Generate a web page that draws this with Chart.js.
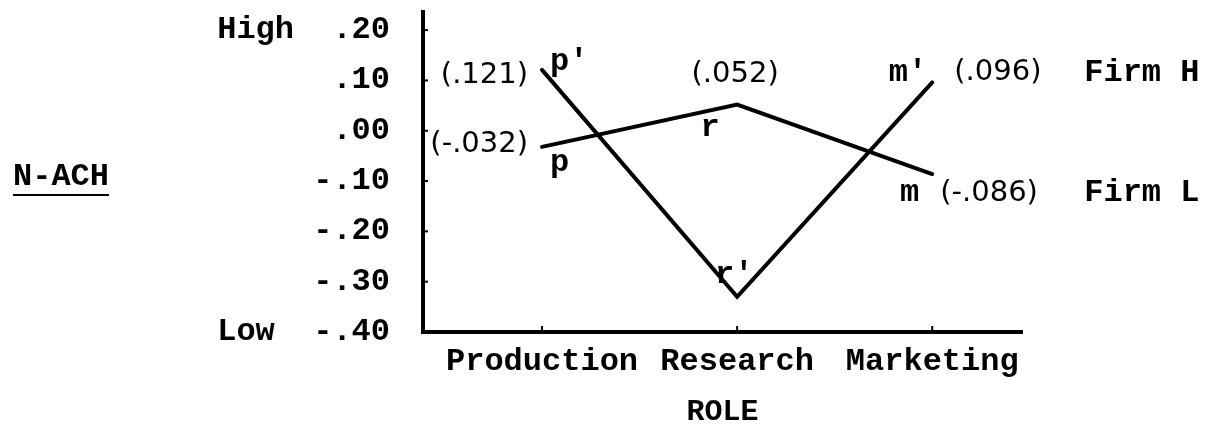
<!DOCTYPE html>
<html>
<head>
<meta charset="utf-8">
<script src="https://cdn.jsdelivr.net/npm/chart.js@4"></script>
<style>
  html, body { margin: 0; padding: 0; background: #fff; }
  #wrap { width: 1208px; height: 427px; }
</style>
</head>
<body>
<div id="wrap"><canvas id="roleChart"></canvas></div>
<script>
// Categories (roles) on the x axis
const roles = ['Production', 'Research', 'Marketing'];

// N-ACH scores by role
const firmH = [0.121, -0.33, 0.096];
const firmL = [-0.032, 0.052, -0.086];

// Y axis ticks and their printed labels
const yTickValues = [-0.4, -0.3, -0.2, -0.1, 0, 0.1, 0.2];
const yTickLabels = ['Low  -.40', '-.30', '-.20', '-.10', '.00', '.10', 'High  .20'];

// Text printed next to each point
const firmHValueLabels = ['(.121)', '', '(.096)'];
const firmHPointNames = ["p'", "r'", "m'"];
const firmLValueLabels = ['(-.032)', '(.052)', '(-.086)'];
const firmLPointNames = ['p', 'r', 'm'];
const seriesNames = ['Firm H', 'Firm L'];

const mono = '"Liberation Mono", "Courier New", monospace';
const plain = '"DejaVu Sans", sans-serif';

// Labels, small inner ticks and the underlined axis name
const annotations = {
  id: 'annotations',
  afterDraw(chart) {
    const ctx = chart.ctx;
    const xs = chart.scales.x;
    const ys = chart.scales.y;
    const px = (i) => xs.getPixelForValue(i);
    const pyH = (i) => ys.getPixelForValue(firmH[i]);
    const pyL = (i) => ys.getPixelForValue(firmL[i]);

    ctx.save();
    ctx.fillStyle = '#000';
    ctx.strokeStyle = '#000';
    ctx.textBaseline = 'middle';

    const put = (text, x, y, align, font) => {
      ctx.font = font;
      ctx.textAlign = align;
      ctx.fillText(text, x, y);
    };
    const monoFont = 'bold 32px ' + mono;
    const valFont = '29px ' + plain;

    // Firm H
    put(firmHValueLabels[0], px(0) - 14, pyH(0) + 6, 'right', valFont);
    put(firmHPointNames[0], px(0) + 8, pyH(0) - 8, 'left', monoFont);
    put(firmHPointNames[1], px(1) - 3, pyH(1) - 22, 'center', monoFont);
    put(firmHPointNames[2], px(2) - 5, pyH(2) - 10, 'right', monoFont);
    put(firmHValueLabels[2], px(2) + 22, pyH(2) - 10, 'left', valFont);
    put(seriesNames[0], px(2) + 152, pyH(2) - 10, 'left', monoFont);

    // Firm L
    put(firmLValueLabels[0], px(0) - 14, pyL(0) - 2, 'right', valFont);
    put(firmLPointNames[0], px(0) + 8, pyL(0) + 16, 'left', monoFont);
    put(firmLValueLabels[1], px(1) - 2, pyL(1) - 30, 'center', valFont);
    put(firmLPointNames[1], px(1) - 27, pyL(1) + 23, 'center', monoFont);
    put(firmLPointNames[2], px(2) - 13, pyL(2) + 19, 'right', monoFont);
    put(firmLValueLabels[2], px(2) + 8, pyL(2) + 19, 'left', valFont);
    put(seriesNames[1], px(2) + 152, pyL(2) + 19, 'left', monoFont);

    // Axis name, underlined
    ctx.font = 'bold 32px ' + mono;
    ctx.textAlign = 'left';
    ctx.fillText('N-ACH', 13, 177);
    const w = ctx.measureText('N-ACH').width;
    ctx.lineWidth = 2;
    ctx.beginPath();
    ctx.moveTo(13, 195);
    ctx.lineTo(13 + w, 195);
    ctx.stroke();

    // Small inner ticks
    ctx.lineWidth = 2;
    const ax = xs.left;
    yTickValues.forEach((v) => {
      const y = ys.getPixelForValue(v);
      ctx.beginPath();
      ctx.moveTo(ax, y);
      ctx.lineTo(ax + 5, y);
      ctx.stroke();
    });
    const ay = ys.bottom;
    roles.forEach((r, i) => {
      const x = px(i);
      ctx.beginPath();
      ctx.moveTo(x, ay);
      ctx.lineTo(x, ay - 6);
      ctx.stroke();
    });
    ctx.restore();
  }
};

const toPoints = (arr) => arr.map((v, i) => ({ x: i, y: v }));

new Chart(document.getElementById('roleChart').getContext('2d'), {
  type: 'line',
  data: {
    datasets: [
      {
        label: seriesNames[0],
        data: toPoints(firmH),
        borderColor: '#000',
        borderWidth: 4,
        pointRadius: 0,
        tension: 0,
        borderCapStyle: 'round',
        borderJoinStyle: 'miter'
      },
      {
        label: seriesNames[1],
        data: toPoints(firmL),
        borderColor: '#000',
        borderWidth: 4,
        pointRadius: 0,
        tension: 0,
        borderCapStyle: 'round',
        borderJoinStyle: 'miter'
      }
    ]
  },
  options: {
    responsive: true,
    maintainAspectRatio: false,
    animation: false,
    layout: { padding: { left: 0, right: 186, top: 12, bottom: 0 } },
    plugins: {
      legend: { display: false },
      tooltip: { enabled: false }
    },
    scales: {
      x: {
        type: 'linear',
        min: -0.61,
        max: 2.46,
        afterBuildTicks: (scale) => { scale.ticks = roles.map((r, i) => ({ value: i })); },
        afterFit: (scale) => {
          scale.height = 95;
          scale.paddingLeft = 0;
          scale.paddingRight = 0;
        },
        grid: { display: false, drawTicks: false },
        border: { display: true, color: '#000', width: 4 },
        ticks: {
          autoSkip: false,
          maxRotation: 0,
          padding: 11,
          color: '#000',
          font: { family: mono, size: 32, weight: 'bold' },
          callback: (v) => roles[v]
        },
        title: {
          display: true,
          text: 'ROLE',
          color: '#000',
          font: { family: mono, size: 30, weight: 'bold', lineHeight: 1 },
          padding: { top: 0, bottom: 0 }
        }
      },
      y: {
        min: -0.4,
        max: 0.236,
        afterBuildTicks: (scale) => { scale.ticks = yTickValues.map((v) => ({ value: v })); },
        afterFit: (scale) => {
          scale.width = 423;
          scale.paddingTop = 0;
          scale.paddingBottom = 0;
        },
        grid: { display: false, drawTicks: false },
        border: { display: true, color: '#000', width: 4 },
        ticks: {
          padding: 33,
          color: '#000',
          font: { family: mono, size: 32, weight: 'bold' },
          callback: (v) => yTickLabels[yTickValues.findIndex((t) => Math.abs(t - v) < 1e-9)]
        }
      }
    }
  },
  plugins: [annotations]
});
</script>
</body>
</html>
